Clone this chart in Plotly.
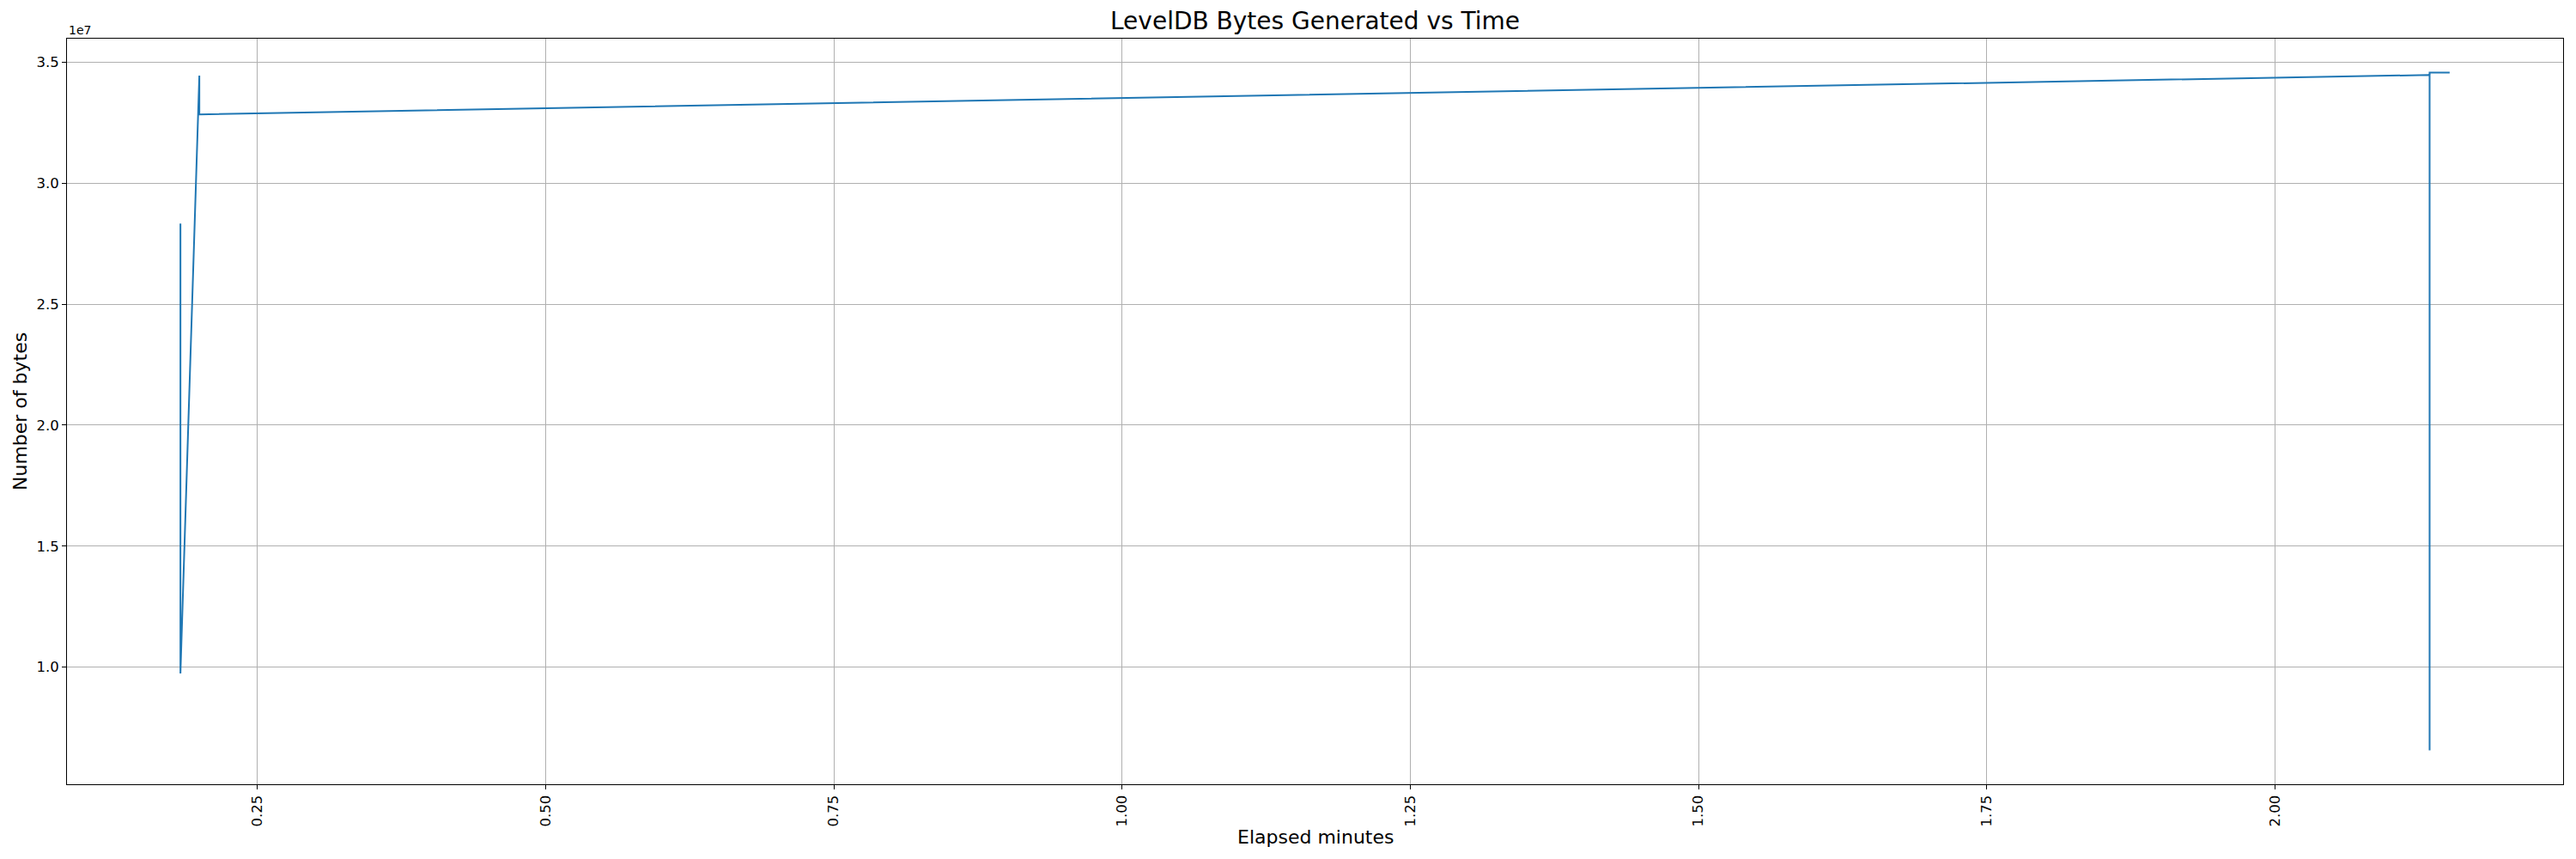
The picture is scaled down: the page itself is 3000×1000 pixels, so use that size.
import plotly.graph_objects as go

# Data
elapsed_minutes = [0.1832, 0.1832, 0.1996, 0.1996, 2.1342, 2.1342, 2.1342, 2.1516]
num_bytes = [28.33e6, 9.74e6, 34.44e6, 32.84e6, 34.47e6, 6.56e6, 34.57e6, 34.57e6]

x_ticks = [0.25, 0.50, 0.75, 1.00, 1.25, 1.50, 1.75, 2.00]
y_ticks = [1.0e7, 1.5e7, 2.0e7, 2.5e7, 3.0e7, 3.5e7]
y_tick_labels = ["1.0", "1.5", "2.0", "2.5", "3.0", "3.5"]

FONT = "DejaVu Sans"
# page body has an 8px default margin; compensate so the chart sits like the reference
OFF = 8
W, H = 3000 - OFF, 1000 - OFF
ML, MR, MT, MB = 78 - OFF, 15, 45 - OFF, 87
PW, PH = W - ML - MR, H - MT - MB

def padded(vals, frac=0.05):
    lo, hi = min(vals), max(vals)
    p = (hi - lo) * frac
    return [lo - p, hi + p]

fig = go.Figure()
fig.add_trace(go.Scatter(
    x=elapsed_minutes, y=num_bytes, mode="lines",
    line=dict(color="#1f77b4", width=2), showlegend=False,
))

axis_common = dict(
    showline=True, linecolor="black", linewidth=1.1, mirror=True,
    showgrid=True, gridcolor="#b0b0b0", gridwidth=1,
    ticks="outside", ticklen=5, tickwidth=1.1, tickcolor="black",
    zeroline=False, automargin=False,
    tickfont=dict(family=FONT, size=16.5, color="black"),
)

fig.update_layout(
    width=W, height=H,
    margin=dict(l=ML, r=MR, t=MT, b=MB),
    paper_bgcolor="white", plot_bgcolor="white",
    font=dict(family=FONT, color="black"),
    xaxis=dict(
        range=padded(elapsed_minutes), tickvals=x_ticks, tickformat=".2f",
        tickangle=-90, **axis_common,
    ),
    yaxis=dict(
        range=padded(num_bytes), tickvals=y_ticks, ticktext=y_tick_labels,
        **axis_common,
    ),
    annotations=[
        dict(text="LevelDB Bytes Generated vs Time", xref="paper", yref="paper",
             x=0.5, y=1, xanchor="center", yanchor="bottom", yshift=2,
             showarrow=False, font=dict(family=FONT, size=28, color="black")),
        dict(text="1e7", xref="paper", yref="paper", x=0, y=1,
             xanchor="left", yanchor="bottom", yshift=0, showarrow=False,
             font=dict(family=FONT, size=14, color="black")),
        dict(text="Elapsed minutes", xref="paper", yref="paper",
             x=0.5, y=-(974 - OFF - (MT + PH)) / PH, xanchor="center", yanchor="middle",
             showarrow=False, font=dict(family=FONT, size=22, color="black")),
        dict(text="Number of bytes", xref="paper", yref="paper",
             x=(23 - OFF - ML) / PW, y=0.5, xanchor="center", yanchor="middle",
             textangle=-90, showarrow=False,
             font=dict(family=FONT, size=22, color="black")),
    ],
)

fig.write_html("out.html")
